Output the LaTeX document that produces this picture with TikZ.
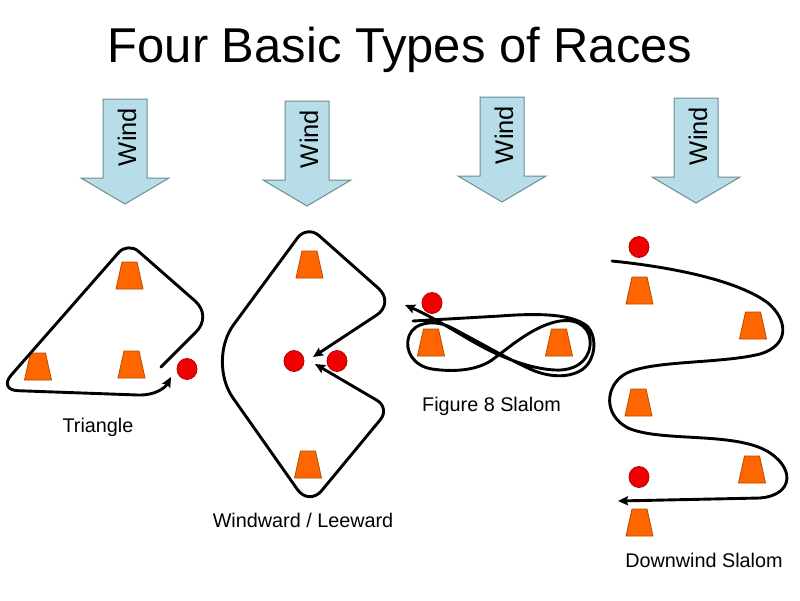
\documentclass[tikz,border=0pt]{standalone}
\usepackage{fontspec}
\setmainfont{Liberation Sans}
\usetikzlibrary{arrows.meta}
\definecolor{windfill}{HTML}{B7DEE8}
\definecolor{winddraw}{HTML}{6E8C94}
\definecolor{conefill}{HTML}{FF6600}
\definecolor{conedraw}{HTML}{B84A00}
\definecolor{buoyfill}{HTML}{F00000}
\definecolor{buoydraw}{HTML}{B00000}
\tikzset{
 windshape/.style={fill=windfill, draw=winddraw, line width=1pt, line join=miter},
 windtext/.style={font=\fontsize{25.5}{30}\selectfont, rotate=90, anchor=base, inner sep=0pt},
 conestyle/.style={fill=conefill, draw=conedraw, line width=0.8pt},
 buoystyle/.style={fill=buoyfill, draw=buoydraw, line width=0.8pt},
 course/.style={line width=2.9pt, line cap=round, line join=round},
 ctip/.tip={Stealth[length=10pt,width=9pt,inset=1.5pt]},
 racelabel/.style={font=\fontsize{19.8}{24}\selectfont, anchor=base, inner sep=0pt},
 titlestyle/.style={font=\fontsize{48.9}{58}\selectfont, anchor=base, inner sep=0pt},
}
\newcommand{\windarrow}[3]{%
  \draw[windshape] (#2-22,#3) -- (#2+22,#3) -- (#2+22,#3+79) -- (#2+44,#3+79)
    -- (#2,#3+105) -- (#2-44,#3+79) -- (#2-22,#3+79) -- cycle;
  \node[windtext] (#1) at (#2+11,#3+38) {Wind};
}
\newcommand{\racecone}[2]{%
  \draw[conestyle] (#1-7.5,#2) -- (#1+7.5,#2) -- (#1+13.5,#2+27) -- (#1-13.5,#2+27) -- cycle;
}
\newcommand{\racebuoy}[2]{%
  \draw[buoystyle] (#1,#2) ellipse [x radius=10pt, y radius=10.5pt];
}
\begin{document}
\begin{tikzpicture}[x=1pt,y=-1pt]
\fill[white] (0,0) rectangle (800,600);
\useasboundingbox (0,0) rectangle (800,600);

\node[titlestyle] (title) at (400,62) {Four Basic Types of Races};

\windarrow{wind1}{125}{99}
\windarrow{wind2}{307}{101}
\windarrow{wind3}{502}{97}
\windarrow{wind4}{696}{98}

% Triangle
\racecone{129.5}{262}
\racecone{38}{353}
\racecone{131.5}{351}
\racebuoy{187}{369}
\draw[course, -{ctip}] (161,367) -- (196,332) .. controls (205.4,322.6) and (205,309.8) .. (195.1,301)
  -- (138.4,251.3) .. controls (132.6,246.2) and (123.8,246.7) .. (118.7,252.5)
  -- (11.3,375) .. controls (4,383.3) and (7,390.3) .. (18,390.7)
  -- (138,395) .. controls (155,395.5) and (165,388) .. (171,377);
\node[racelabel] (lbl1) at (98,432) {Triangle};

% Windward / Leeward
\racecone{309.5}{251}
\racecone{308}{451}
\racebuoy{294}{361}
\racebuoy{337}{361}
\draw[course, {ctip}-{ctip}] (313,357) -- (376.6,315.1) .. controls (386.8,308.4) and (387.6,296.5) .. (378.5,288.4)
  -- (319,235.6) .. controls (312.4,229.7) and (302.7,230.8) .. (297.5,237.9)
  -- (233.6,324.7) .. controls (218.9,344.7) and (218.6,377.5) .. (232.9,397.8)
  -- (297.5,489.6) .. controls (303.9,498.6) and (314.7,499.1) .. (321.7,490.6)
  -- (380.4,419.6) .. controls (385.7,413.2) and (384.2,404.6) .. (377.1,400.4)
  -- (315,364);
\node[racelabel] (lbl2) at (303,527) {Windward / Leeward};

% Figure 8 Slalom
\racecone{431}{329}
\racecone{559}{329}
\racebuoy{432}{303}
\draw[course, -{ctip}] (413,321) -- (500,316)
  .. controls (540,313) and (572,314) .. (587,326)
  .. controls (598,337) and (596,362) .. (580,371)
  .. controls (565,379) and (545,376) .. (530,369)
  .. controls (510,360) and (475,340) .. (452,328)
  .. controls (435,319) and (414,322) .. (409,336)
  .. controls (404,350) and (413,366) .. (432,369)
  .. controls (452,372) and (476,371) .. (492,360)
  .. controls (512,345) and (535,325) .. (560,321)
  .. controls (580,318) and (592,330) .. (590,346)
  .. controls (588,362) and (574,371) .. (555,370)
  .. controls (535,369) and (515,362) .. (497,354)
  .. controls (470,342) and (440,320) .. (405,305);
\node[racelabel] (lbl3) at (491.5,411) {Figure 8 Slalom};

% Downwind Slalom
\racebuoy{639}{247}
\racecone{639.5}{277}
\racecone{753}{312}
\racecone{638.5}{389}
\racecone{752}{456}
\racebuoy{639}{477}
\racecone{639.5}{509}
\draw[course, -{ctip}] (612,261) .. controls (680,268) and (740,282) .. (768,303)
  .. controls (788,320) and (790,345) .. (760,354)
  .. controls (720,364) and (650,360) .. (625,374)
  .. controls (605,386) and (603,415) .. (628,428)
  .. controls (660,442) and (730,432) .. (765,450)
  .. controls (795,466) and (795,495) .. (760,498)
  -- (618,501);
\node[racelabel] (lbl4) at (704,567) {Downwind Slalom};
\end{tikzpicture}
\end{document}
